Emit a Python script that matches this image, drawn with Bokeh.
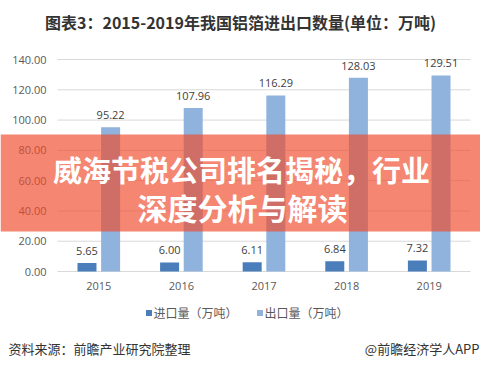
from bokeh.plotting import figure
from bokeh.models import Range1d
from bokeh.core.properties import value
from bokeh.embed import file_html
from bokeh.resources import INLINE

# ---- data ----
years = ["2015", "2016", "2017", "2018", "2019"]
imports = [5.65, 6.00, 6.11, 6.84, 7.32]
exports = [95.22, 107.96, 116.29, 128.03, 129.51]
y_ticks = [0, 20, 40, 60, 80, 100, 120, 140]
title_text = "图表3：2015-2019年我国铝箔进出口数量(单位：万吨)"
legend_labels = ["进口量（万吨）", "出口量（万吨）"]
source_text = "资料来源：前瞻产业研究院整理"
credit_text = "@前瞻经济学人APP"
banner_lines = ["威海节税公司排名揭秘，行业", "深度分析与解读"]

# ---- layout (image pixel geometry) ----
W, H = 480, 368
OFF = 0
X0, XS = 57.0, 82.6          # category 0 edge, px per category
Y0, YS = 271.0, 212.0 / 140  # value 0 line, px per unit


def dx(px):
    return (px - X0) / XS


def dy(py):
    return (Y0 - py) / YS


CJK = value("Noto Sans CJK SC")
NUM = value("Open Sans")

p = figure(width=W, height=H,
           x_range=Range1d(dx(OFF), dx(OFF + W)),
           y_range=Range1d(dy(OFF + H), dy(OFF)),
           output_backend="svg", toolbar_location=None,
           x_axis_location=None, y_axis_location=None,
           min_border=0, tools="")
p.grid.visible = False
p.outline_line_color = None
p.background_fill_color = "white"
p.border_fill_color = "white"

# gridlines
p.segment(x0=[dx(57)] * len(y_ticks), x1=[dx(470)] * len(y_ticks),
          y0=y_ticks, y1=y_ticks, line_color="#d9d9d9", line_width=1)

# y tick labels
p.text(x=[dx(46)] * len(y_ticks), y=y_ticks, text=[f"{t:.2f}" for t in y_ticks],
       text_align="right", text_baseline="middle", text_font=NUM,
       text_font_size="11px", text_color="#595959")

# bars
centers = [i + 0.5 for i in range(len(years))]
off, bw = 0.143, 0.23
imp_x = [c - off for c in centers]
exp_x = [c + off for c in centers]
IMP_C, EXP_C = "#4a7ebb", "#8fb3dd"
p.vbar(x=imp_x, width=bw, top=imports, bottom=0, fill_color=IMP_C, line_color=None)
p.vbar(x=exp_x, width=bw, top=exports, bottom=0, fill_color=EXP_C, line_color=None)

# value labels
p.text(x=imp_x, y=imports, text=[f"{v:.2f}" for v in imports], text_align="center",
       text_baseline="bottom", y_offset=-8, text_font=NUM, text_font_size="11px",
       text_color="#404040")
p.text(x=exp_x, y=exports, text=[f"{v:.2f}" for v in exports], text_align="center",
       text_baseline="bottom", y_offset=-8, text_font=NUM, text_font_size="11px",
       text_color="#404040")

# x category labels
p.text(x=centers, y=[dy(285)] * len(years), text=years, text_align="center",
       text_baseline="middle", text_font=NUM, text_font_size="11px",
       text_color="#595959")

# title
p.text(x=[dx(240)], y=[dy(21)], text=[title_text], text_align="center",
       text_baseline="middle", text_font=CJK, text_font_size="16px",
       text_font_style="bold", text_color="#333333")

# legend
p.scatter(x=[dx(148.5), dx(259.5)], y=[dy(312.5)] * 2, marker="square", size=6,
          fill_color=[IMP_C, EXP_C], line_color=None)
p.text(x=[dx(153), dx(264)], y=[dy(312)] * 2, text=legend_labels, text_align="left",
       text_baseline="middle", text_font=CJK, text_font_size="12px",
       text_color="#595959")

# footer
p.text(x=[dx(8)], y=[dy(348)], text=[source_text], text_align="left",
       text_baseline="middle", text_font=CJK, text_font_size="13px",
       text_color="#333333")
p.text(x=[dx(479)], y=[dy(348)], text=[credit_text], text_align="right",
       text_baseline="middle", text_font=CJK, text_font_size="13px",
       text_color="#333333")

# overlay banner
p.quad(left=[dx(0)], right=[dx(481)], top=[dy(134)], bottom=[dy(231)],
       fill_color="#ee4a2c", fill_alpha=0.67, line_color=None)
p.text(x=[dx(241)], y=[dy(168)], text=[banner_lines[0]],
       text_align="center", text_baseline="middle", text_font=CJK,
       text_font_size="29px", text_font_style="bold", text_color="white")
p.text(x=[dx(242)], y=[dy(206)], text=[banner_lines[1]],
       text_align="center", text_baseline="middle", text_font=CJK,
       text_font_size="30px", text_font_style="bold", text_color="white")

open("out.html", "w").write(file_html(p, INLINE))
